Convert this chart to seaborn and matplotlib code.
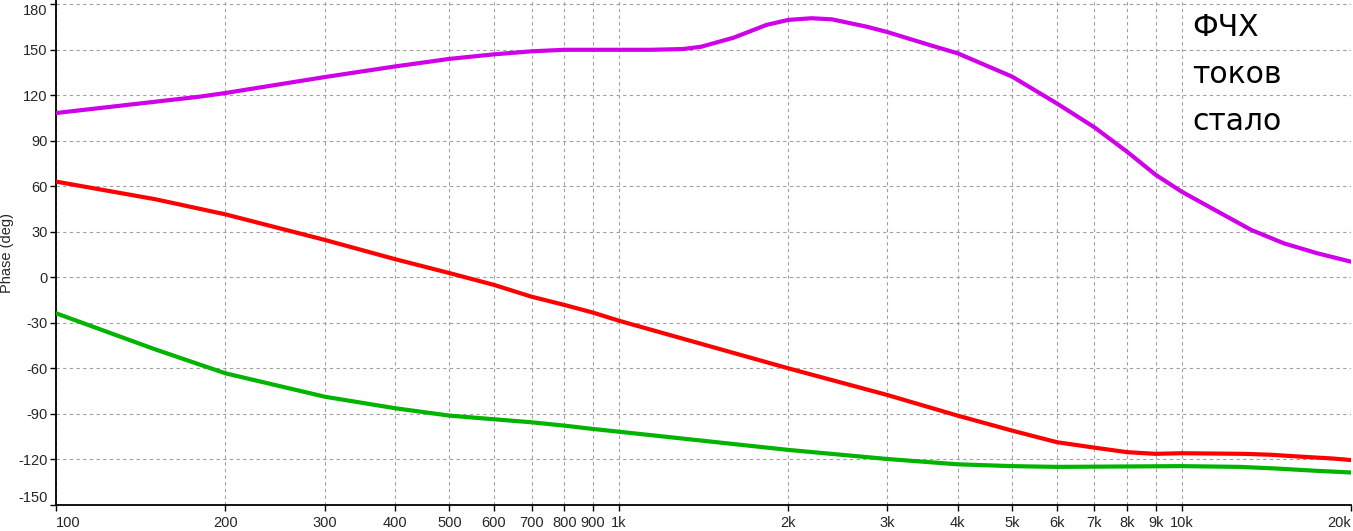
import numpy as np
import pandas as pd
import matplotlib
matplotlib.use("Agg")
import matplotlib.pyplot as plt
import seaborn as sns

# ---- data ----
purple_f = [100, 180, 200, 300, 400, 500, 600, 700, 800, 1000, 1140, 1300, 1400, 1600,
            1830, 2000, 2200, 2390, 2760, 3000, 3600, 4000, 5000, 6000, 7000, 8000,
            9000, 10000, 11600, 13300, 15200, 17400, 20000]
purple_p = [108.3, 119.1, 121.5, 132, 139, 144, 147, 149, 150, 150, 150, 150.5, 152, 158,
            166.4, 169.7, 170.8, 170.1, 165.2, 161.7, 152.7, 147.7, 132.3, 114.7, 98.9, 82.8,
            67.5, 56.5, 43.3, 31.2, 22.4, 15.9, 10.3]

red_f = [100, 150, 200, 300, 400, 500, 600, 700, 800, 900, 1000, 2000, 3000,
         4000, 5000, 6000, 7000, 8000, 9000, 10000, 12900, 14400, 16200, 18600, 20000]
red_p = [63.1, 51.5, 41.5, 24.7, 12, 2.8, -5, -12.8, -18.2, -23.3, -28.6, -60, -77.6,
         -91.2, -101.1, -108.7, -112.3, -115.3, -116.4, -116, -116.4, -117, -118.2, -119.5, -120.5]

green_f = [100, 150, 200, 300, 400, 500, 600, 700, 800, 900, 1000, 2000, 3000, 4000,
           5000, 6000, 10000, 12700, 14600, 17400, 20000]
green_p = [-23.7, -47.5, -63.3, -78.7, -86.3, -91.2, -93.6, -95.6, -97.8, -100, -101.8, -113.8,
           -119.8, -123.3, -124.5, -125, -124.5, -125, -126, -127.6, -128.7]

xtick_vals = [100, 200, 300, 400, 500, 600, 700, 800, 900, 1000, 2000, 3000, 4000, 5000,
              6000, 7000, 8000, 9000, 10000, 20000]
xtick_labels = ["100", "200", "300", "400", "500", "600", "700", "800", "900", "1k", "2k",
                "3k", "4k", "5k", "6k", "7k", "8k", "9k", "10k", "20k"]
ytick_vals = [-150, -120, -90, -60, -30, 0, 30, 60, 90, 120, 150, 180]
annotation_lines = ["ФЧХ", "токов", "стало"]
y_label = "Phase (deg)"

# ---- style ----
sns.set_style("white")
plt.rcParams["font.family"] = ["DejaVu Sans"]
tick_font = ["Liberation Sans", "DejaVu Sans"]
tick_size = 10.5

fig = plt.figure(figsize=(13.53, 5.31), dpi=100)
ax = fig.add_axes([56 / 1353, 25.7 / 531, 1295 / 1353, 505.3 / 531])

df = pd.concat([
    pd.DataFrame({"f": purple_f, "p": purple_p, "s": "purple"}),
    pd.DataFrame({"f": red_f, "p": red_p, "s": "red"}),
    pd.DataFrame({"f": green_f, "p": green_p, "s": "green"}),
])
palette = {"purple": "#D000E8", "red": "#FF0000", "green": "#00B400"}
sns.lineplot(data=df, x="f", y="p", hue="s", palette=palette, linewidth=3.0,
             legend=False, ax=ax, estimator=None, sort=True, zorder=3)

ax.set_xscale("log")
ax.set_xlim(100, 20000)
ax.set_ylim(-150.33, 182.83)
ax.set_xticks(xtick_vals)
ax.set_xticklabels(xtick_labels)
ax.minorticks_off()
ax.set_yticks(ytick_vals)
ax.set_yticklabels([str(v) for v in ytick_vals])

for lab in ax.get_xticklabels() + ax.get_yticklabels():
    lab.set_fontfamily(tick_font)
    lab.set_fontsize(tick_size)
xl = ax.get_xticklabels()
xl[0].set_horizontalalignment("left")
xl[-1].set_horizontalalignment("right")
yl = ax.get_yticklabels()
yl[0].set_verticalalignment("bottom")
yl[-1].set_verticalalignment("top")

ax.grid(True, color="#a0a0a0", linestyle=(0, (3, 3)), linewidth=0.8, zorder=0)
ax.set_axisbelow(True)
for side in ["top", "right"]:
    ax.spines[side].set_visible(False)
for side in ["left", "bottom"]:
    ax.spines[side].set_color("black")
    ax.spines[side].set_linewidth(1.3)
ax.tick_params(axis="both", direction="out", length=4, width=1, color="black",
               left=True, bottom=True)
ax.tick_params(axis="y", pad=2)
ax.tick_params(axis="x", pad=4)
ax.set_xlabel("")
ax.set_ylabel(y_label, fontsize=tick_size, fontfamily=tick_font, labelpad=3)

for i, line in enumerate(annotation_lines):
    fig.text(1192 / 1353, 1 - (36 + 47 * i) / 531, line, fontsize=21.5,
             ha="left", va="baseline", color="black", family=["DejaVu Sans"])

fig.savefig("out.png", dpi=100)
